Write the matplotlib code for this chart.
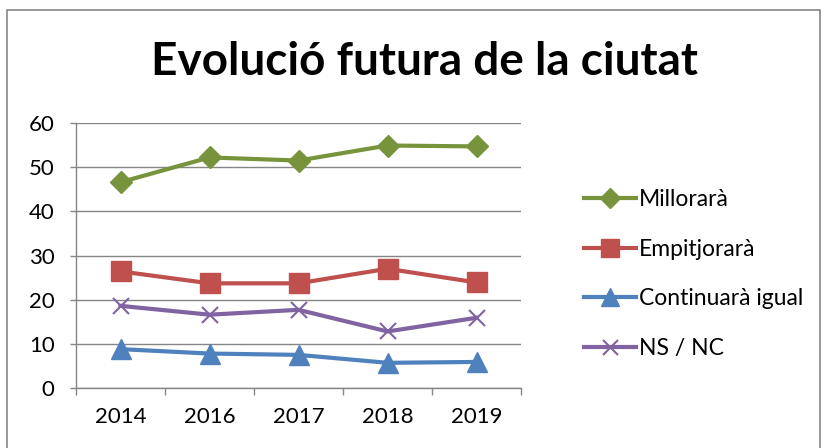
import matplotlib
matplotlib.use("Agg")
import matplotlib.pyplot as plt
from matplotlib.patches import Rectangle

years = ["2014", "2016", "2017", "2018", "2019"]
millorara = [46.6, 52.2, 51.5, 54.9, 54.7]
empitjorara = [26.4, 23.7, 23.7, 27.0, 23.9]
continuara = [8.8, 7.8, 7.5, 5.7, 5.9]
nsnc = [18.6, 16.6, 17.7, 12.8, 15.9]
series_names = ["Millorarà", "Empitjorarà", "Continuarà igual", "NS / NC"]

plt.rcParams['font.family'] = ['Lato', 'DejaVu Sans']

W, H = 828, 448
fig = plt.figure(figsize=(W / 100, H / 100), dpi=100)
fig.patch.set_facecolor('white')
fig.patches.append(Rectangle((7 / W, -0.1), (820 - 7) / W, 1.1 - 10 / H,
                             transform=fig.transFigure, fill=False,
                             edgecolor='#868686', linewidth=1.2))

ax = fig.add_axes([76 / W, 1 - 388 / H, (521 - 76) / W, (388 - 123) / H])
x = list(range(len(years)))
styles = [
    (millorara, '#77933C', 'D', 11),
    (empitjorara, '#C0504D', 's', 14),
    (continuara, '#4F81BD', '^', 14),
    (nsnc, '#8064A2', 'x', 12),
]
for (vals, col, mk, ms), name in zip(styles, series_names):
    kw = dict(markeredgewidth=1.5) if mk == 'x' else dict(markeredgecolor=col)
    ax.plot(x, vals, color=col, linewidth=3.0, marker=mk, markersize=ms,
            markerfacecolor=col, label=name, **kw)

ax.set_xlim(-0.5, len(years) - 0.5)
ax.set_ylim(0, 60)
ax.set_yticks(range(0, 61, 10))
ax.set_xticks(x)
ax.set_xticklabels(years)
ax.set_xticks([i - 0.5 for i in range(len(years) + 1)], minor=True)
ax.tick_params(axis='x', which='major', length=0, labelsize=16, pad=14)
ax.tick_params(axis='x', which='minor', length=5, color='#868686', width=1)
ax.tick_params(axis='y', length=4.5, color='#868686', width=1, labelsize=16, pad=11)
ax.grid(axis='y', color='#868686', linewidth=1)
ax.set_axisbelow(True)
for s in ['top', 'right']:
    ax.spines[s].set_visible(False)
for s in ['left', 'bottom']:
    ax.spines[s].set_color('#868686')
    ax.spines[s].set_linewidth(1)

fig.text(425 / W, 1 - 62 / H, "Evolució futura de la ciutat", ha='center', va='center',
         fontsize=33, fontweight='bold')

leg = fig.legend(loc='center left', bbox_to_anchor=(563 / W, 1 - 274 / H),
                 frameon=False, fontsize=16.5, handlelength=2.3, handletextpad=0.1,
                 labelspacing=1.25, markerscale=0.9)

fig.savefig("out.png", dpi=100)
